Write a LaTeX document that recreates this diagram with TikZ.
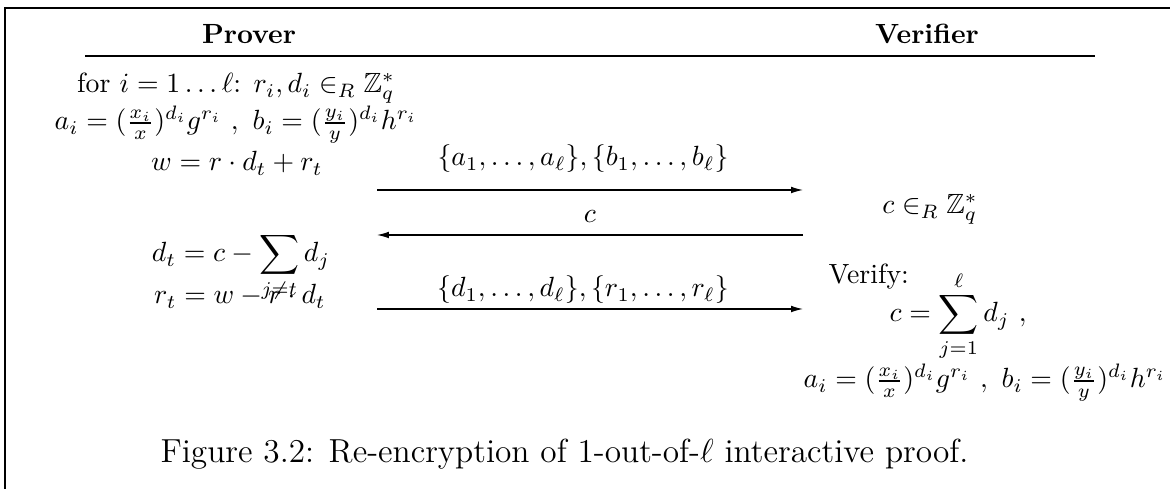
\documentclass[tikz,border=0pt]{standalone}
\usepackage{amsmath,amssymb}
\usetikzlibrary{arrows.meta}
\begin{document}
\begin{tikzpicture}[x=0.36pt,y=-0.36pt,
  txt/.style={inner sep=0pt,anchor=base},
  ltxt/.style={inner sep=0pt,anchor=base west},
  msg/.style={line width=0.4pt,-{Latex[length=4.3pt,width=2.4pt]}},
  hrule/.style={line width=0.45pt},
  frame/.style={line width=0.5pt}]
\useasboundingbox (0,0) rectangle (1170,489);
% frame
\coordinate (fb) at (5,489);
\coordinate (fc) at (5,8);
\coordinate (fr) at (1170,8);
\draw[frame] (fb) -- (fc) -- (fr);
% headers
\node[txt,font=\bfseries] (prover) at (249,44) {Prover};
\node[txt,font=\bfseries] (verifier) at (927,44) {Verifier};
\coordinate (ruleL) at (85,56);
\coordinate (ruleR) at (1095,56);
\draw[hrule] (ruleL) -- (ruleR);
% prover side
\node[txt] (p1) at (236,93) {for $i=1\ldots\ell$: $r_i,d_i\in_R\mathbb{Z}_q^*$};
\node[txt] (p2) at (236,130) {$a_i=(\frac{x_i}{x})^{d_i}g^{r_i}\ ,\ b_i=(\frac{y_i}{y})^{d_i}h^{r_i}$};
\node[txt] (p3) at (237,171) {$w=r\cdot d_t+r_t$};
\node[txt] (p4) at (241,262) {$\displaystyle d_t=c-\sum_{j\neq t}d_j$};
\node[txt] (p5) at (240,304) {$r_t=w-r\cdot d_t$};
% messages
\coordinate (a1s) at (377,190);
\coordinate (a1e) at (803,190);
\coordinate (a2s) at (803,235);
\coordinate (a2e) at (377,235);
\coordinate (a3s) at (377,309);
\coordinate (a3e) at (803,309);
\draw[msg] (a1s) -- (a1e);
\draw[msg] (a2s) -- (a2e);
\draw[msg] (a3s) -- (a3e);
\node[txt] (m1) at (583,166) {$\{a_1,\ldots,a_\ell\},\{b_1,\ldots,b_\ell\}$};
\node[txt] (m2) at (590,223) {$c$};
\node[txt] (m3) at (583,297) {$\{d_1,\ldots,d_\ell\},\{r_1,\ldots,r_\ell\}$};
% verifier side
\node[txt] (v1) at (930,214) {$c\in_R\mathbb{Z}_q^*$};
\node[ltxt] (v2) at (828,284) {Verify:};
\node[txt] (v3) at (958,322) {$\displaystyle c=\sum_{j=1}^{\ell}d_j\ ,$};
\node[txt] (v4) at (985,388) {$a_i=(\frac{x_i}{x})^{d_i}g^{r_i}\ ,\ b_i=(\frac{y_i}{y})^{d_i}h^{r_i}$};
% caption
\node[ltxt,font=\fontsize{12}{14}\selectfont] (cap) at (160,463) {Figure 3.2: Re-encryption of 1-out-of-$\ell$ interactive proof.};
\end{tikzpicture}
\end{document}
